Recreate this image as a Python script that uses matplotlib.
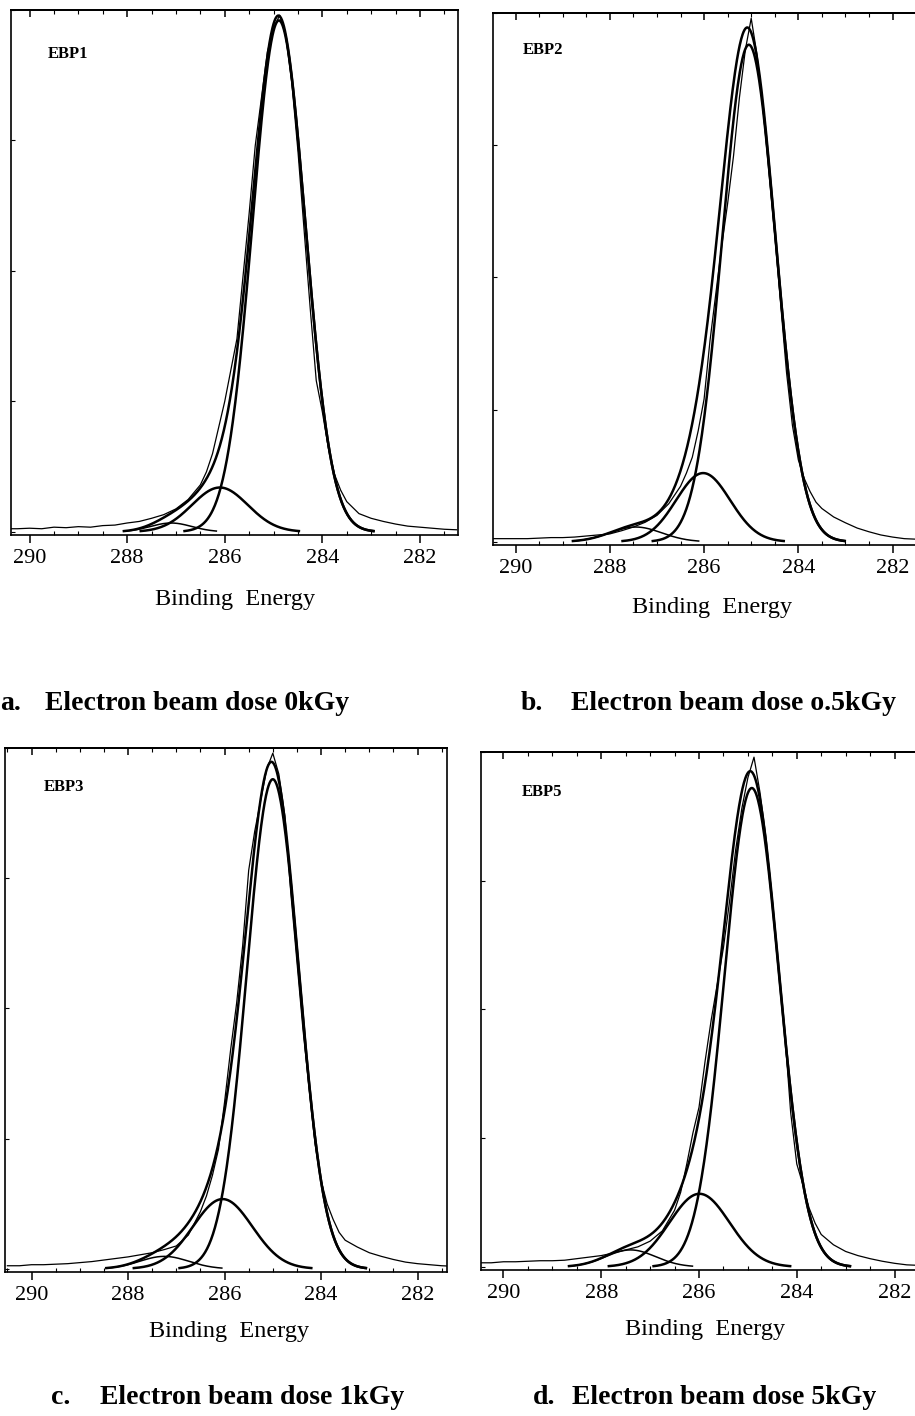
import numpy as np
import matplotlib
matplotlib.use("Agg")
import matplotlib.pyplot as plt
from matplotlib.ticker import MultipleLocator, FormatStrFormatter, NullLocator

plt.rcParams['font.family'] = ['Liberation Serif', 'DejaVu Serif']

# ---------------- data ----------------
# binding-energy sampling of the measured spectra (eV)
energy = [290.5, 290.25, 290.0, 289.75, 289.5, 289.25, 289.0, 288.75, 288.5, 288.25, 288.0,
          287.75, 287.5, 287.25, 287.0, 286.75,
          286.5, 286.375, 286.25, 286.125, 286.0, 285.875, 285.75, 285.625, 285.5,
          285.375, 285.25, 285.125, 285.0, 284.875, 284.75, 284.625, 284.5, 284.375,
          284.25, 284.125, 284.0, 283.875, 283.75, 283.625, 283.5,
          283.25, 283.0, 282.75, 282.5, 282.25, 282.0, 281.75, 281.5, 281.25]

# measured (raw) intensities, normalised to the frame height
raw_ebp1 = [.006, .006, .007, .006, .009, .008, .010, .009, .012, .013, .017,
            .020, .026, .033, .044, .062,
            .090, .115, .150, .200, .250, .310, .370, .490, .610,
            .740, .830, .920, .965, .990, .950, .860, .730, .580,
            .430, .290, .230, .160, .110, .080, .058,
            .035, .026, .020, .015, .011, .009, .007, .005, .004]
raw_ebp2 = [.006, .006, .006, .006, .007, .008, .008, .009, .011, .013, .015,
            .021, .028, .037, .050, .072,
            .105, .130, .160, .210, .270, .380, .470, .560, .640,
            .730, .840, .930, .990, .920, .820, .700, .580, .450,
            .320, .220, .155, .120, .095, .075, .063,
            .047, .036, .026, .019, .013, .009, .006, .005, .004]
raw_ebp3 = [.006, .006, .008, .008, .009, .010, .012, .014, .017, .020, .023,
            .027, .031, .037, .044, .065,
            .110, .140, .180, .230, .320, .420, .510, .620, .765,
            .840, .900, .960, .990, .950, .870, .720, .590, .460,
            .350, .240, .170, .125, .095, .070, .055,
            .042, .031, .024, .018, .013, .010, .008, .006, .005]
raw_ebp5 = [.008, .008, .010, .010, .011, .012, .012, .013, .016, .019, .022,
            .027, .033, .039, .050, .070,
            .110, .145, .200, .260, .310, .400, .480, .550, .620,
            .710, .810, .890, .950, .990, .920, .830, .710, .580,
            .460, .300, .200, .160, .115, .085, .063,
            .043, .030, .022, .016, .011, .007, .004, .003, .003]

# fitted components: centre (eV), height, FWHM (eV)
ebp1_centres = [284.89, 286.10, 287.10]
ebp1_heights = [0.980, 0.085, 0.017]
ebp1_fwhm    = [1.27, 1.35, 1.00]

ebp2_centres = [285.05, 286.02, 287.45]
ebp2_heights = [0.940, 0.130, 0.028]
ebp2_fwhm    = [1.34, 1.35, 1.30]

ebp3_centres = [285.00, 286.04, 287.25]
ebp3_heights = [0.940, 0.134, 0.024]
ebp3_fwhm    = [1.27, 1.45, 1.20]

ebp5_centres = [284.92, 285.99, 287.40]
ebp5_heights = [0.930, 0.142, 0.033]
ebp5_fwhm    = [1.32, 1.45, 1.20]

sample_names = ["EBP1", "EBP2", "EBP3", "EBP5"]
panel_letters = ["a.", "b.", "c.", "d."]
captions = ["Electron beam dose 0kGy", "Electron beam dose o.5kGy",
            "Electron beam dose 1kGy", "Electron beam dose 5kGy"]

# ---------------- layout ----------------
W, H = 915, 1416
fig = plt.figure(figsize=(W / 100, H / 100), dpi=100)


def rect(l, t, r, b):
    return [l / W, 1 - b / H, (r - l) / W, (b - t) / H]


def fpos(x, y):
    return (x / W, 1 - y / H)


panels = [
    dict(rect=rect(11, 10, 458, 535), xlim=(290.38, 281.22), raw=raw_ebp1,
         comp=(ebp1_centres, ebp1_heights, ebp1_fwhm), name_xy=(0.083, 0.916),
         xlabel=(235, 600), letter=(0, 703), cap=(45, 703)),
    dict(rect=rect(493, 13, 918, 545), xlim=(290.48, 281.46), raw=raw_ebp2,
         comp=(ebp2_centres, ebp2_heights, ebp2_fwhm), name_xy=(0.071, 0.930),
         xlabel=(712, 607), letter=(521, 703), cap=(571, 703)),
    dict(rect=rect(5, 748, 447, 1272), xlim=(290.55, 281.39), raw=raw_ebp3,
         comp=(ebp3_centres, ebp3_heights, ebp3_fwhm), name_xy=(0.088, 0.925),
         xlabel=(229, 1332), letter=(51, 1398), cap=(100, 1398)),
    dict(rect=rect(481, 752, 918, 1270), xlim=(290.46, 281.52), raw=raw_ebp5,
         comp=(ebp5_centres, ebp5_heights, ebp5_fwhm), name_xy=(0.094, 0.922),
         xlabel=(705, 1330), letter=(533, 1397), cap=(572, 1397)),
]


def peak(x, c, h, fwhm):
    s = fwhm / 2.3548
    return h * np.exp(-(x - c) ** 2 / (2 * s * s))


for i, p in enumerate(panels):
    ax = fig.add_axes(p["rect"])
    x0, x1 = p["xlim"]
    xs = np.linspace(x0, x1, 900)
    centres, heights, widths = p["comp"]
    comps = [peak(xs, c, h, w) for c, h, w in zip(centres, heights, widths)]
    env = np.sum(comps, axis=0)

    # raw spectrum
    ax.plot(energy, p["raw"], color="black", lw=0.9, zorder=3)
    # components
    for k, yc in enumerate(comps):
        yv = np.where(yc > 0.0015, yc, np.nan)
        ax.plot(xs, yv, color="black", lw=1.8 if k < 2 else 1.1, zorder=2)
    # envelope
    ax.plot(xs, np.where(env > 0.0015, env, np.nan), color="black", lw=1.8, zorder=2)

    ax.set_xlim(x0, x1)
    ax.set_ylim(-0.006, 1.0)

    ax.xaxis.set_major_locator(MultipleLocator(2))
    ax.xaxis.set_major_formatter(FormatStrFormatter('%d'))
    ax.xaxis.set_minor_locator(MultipleLocator(0.5))
    ax.tick_params(axis='x', which='major', direction='out', length=6, width=1.1,
                   labelsize=16, pad=4, bottom=True, top=False)
    ax.tick_params(axis='x', which='minor', direction='in', length=3, width=0.8,
                   bottom=True, top=False)
    ax.yaxis.set_major_locator(MultipleLocator(0.25))
    ax.yaxis.set_minor_locator(NullLocator())
    ax.tick_params(axis='y', which='major', direction='in', length=3, width=0.8,
                   left=True, right=False, labelleft=False)

    top = ax.secondary_xaxis('top')
    top.xaxis.set_major_locator(MultipleLocator(2))
    top.xaxis.set_minor_locator(MultipleLocator(0.5))
    top.tick_params(axis='x', which='major', direction='in', length=5, width=1.1,
                    labeltop=False)
    top.tick_params(axis='x', which='minor', direction='in', length=3, width=0.8)
    top.spines['top'].set_linewidth(1.4)

    for sp in ax.spines.values():
        sp.set_linewidth(1.2)
        sp.set_color("black")

    ax.text(p["name_xy"][0], p["name_xy"][1], sample_names[i], transform=ax.transAxes,
            fontsize=12, fontweight='bold', ha='left', va='center')

    fig.text(*fpos(*p["xlabel"]), "Binding  Energy", fontsize=17.5,
             ha='center', va='center')
    fig.text(*fpos(*p["letter"]), panel_letters[i], fontsize=20, fontweight='bold',
             ha='left', va='center')
    fig.text(*fpos(*p["cap"]), captions[i], fontsize=20, fontweight='bold',
             ha='left', va='center')

fig.savefig("out.png", dpi=100, facecolor="white")
